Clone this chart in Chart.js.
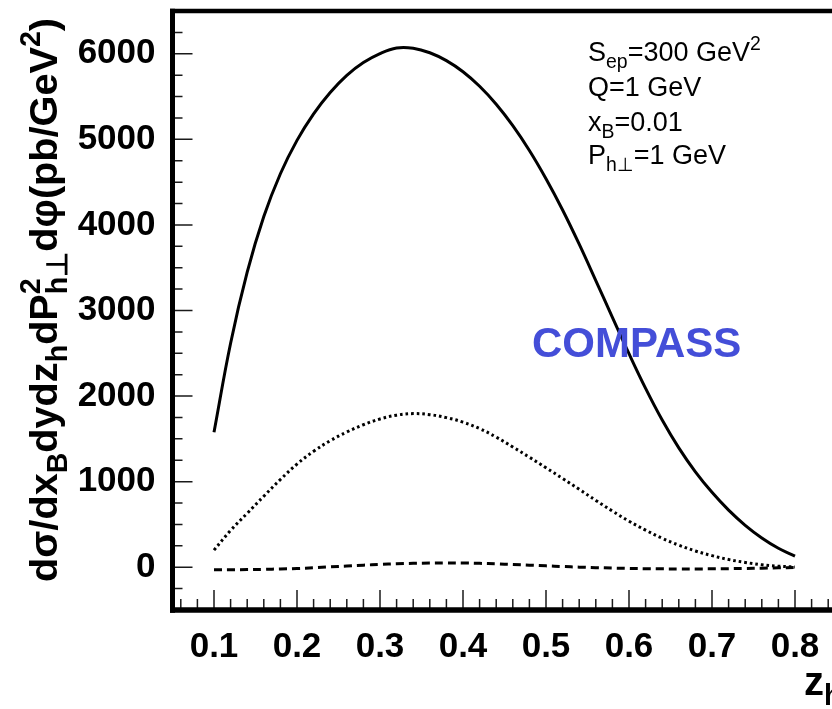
<!DOCTYPE html>
<html><head><meta charset="utf-8">
<script src="https://cdn.jsdelivr.net/npm/chart.js@4.4.1/dist/chart.umd.min.js"></script>
<style>
html,body{margin:0;padding:0;background:#fff;overflow:hidden;width:832px;height:709px}
#wrap{position:absolute;left:0;top:0;width:860px;height:709px}
</style></head>
<body><div id="wrap"><canvas id="c" width="860" height="709"></canvas></div>
<script>
// ---- data ----
const zValues = [0.10,0.12,0.14,0.16,0.18,0.20,0.22,0.24,0.26,0.28,0.30,0.32,0.34,0.36,0.38,0.40,0.42,0.44,0.46,0.48,0.50,0.52,0.54,0.56,0.58,0.60,0.62,0.64,0.66,0.68,0.70,0.72,0.74,0.76,0.78,0.80];
const solidCurve = [1578,2618,3448,4098,4598,4988,5298,5548,5748,5898,6003,6068,6065,6012,5920,5790,5620,5410,5160,4870,4540,4175,3775,3350,2920,2495,2090,1720,1395,1115,875,667,490,342,222,130];
const dottedCurve = [200,430,630,830,1025,1205,1355,1478,1580,1665,1732,1777,1795,1783,1748,1695,1620,1520,1405,1285,1162,1037,910,781,656,538,433,338,258,190,135,90,56,29,12,2];
const dashedCurve = [-30,-30,-28,-25,-20,-15,-6,4,14,24,32,40,45,48,50,49,45,39,32,24,16,8,1,-5,-10,-14,-17,-19,-20,-20,-19,-17,-14,-11,-7,-4];
const xTickLabels = [0.1,0.2,0.3,0.4,0.5,0.6,0.7,0.8];
const yTickLabels = [0,1000,2000,3000,4000,5000,6000];
const annotationLines = [
  [{t:'S'},{t:'ep',s:'b'},{t:'=300 GeV'},{t:'2',s:'p'}],
  [{t:'Q=1 GeV'}],
  [{t:'x'},{t:'B',s:'b'},{t:'=0.01'}],
  [{t:'P'},{t:'h\u22A5',s:'b'},{t:'=1 GeV'}]
];
const yTitle = [{t:'d\u03C3/dx'},{t:'B',s:'b'},{t:'dydz'},{t:'h',s:'b'},{t:'dP'},{stack:true,sup:'2',sub:'h\u22A5'},{t:'d\u03C6(pb/GeV'},{t:'2',s:'p'},{t:')'}];
const xTitle = [{t:'z'},{t:'h',s:'b'}];
const experimentLabel = 'COMPASS';

const FAMILY = '"Liberation Sans", Arial, Helvetica, sans-serif';
const X_MIN = 0.05, X_MAX = 0.85, Y_MIN = -500, Y_MAX = 6500;
const CANVAS_W = 860, FRAME_RIGHT = 836.5;

function drawRich(ctx, parts, x, y, size, weight, measureOnly){
  let cx = x;
  const sub = 0.72;
  for (const p of parts){
    if (p.stack){
      ctx.font = `${weight} ${size*sub}px ${FAMILY}`;
      const w1 = ctx.measureText(p.sup).width, w2 = ctx.measureText(p.sub).width;
      if(!measureOnly){ ctx.fillText(p.sup, cx, y - size*0.42); ctx.fillText(p.sub, cx, y + size*0.26); }
      cx += Math.max(w1,w2);
    } else {
      let fs = size, dy = 0;
      if (p.s==='b'){ fs = size*sub; dy = size*0.26; }
      else if (p.s==='p'){ fs = size*sub; dy = -size*0.42; }
      ctx.font = `${weight} ${fs}px ${FAMILY}`;
      if(!measureOnly) ctx.fillText(p.t, cx, y+dy);
      cx += ctx.measureText(p.t).width;
    }
  }
  return cx - x;
}

const framePlugin = {
  id:'frame',
  afterDatasetsDraw(chart){
    const {ctx, chartArea:a, scales:{x, y}} = chart;
    ctx.save();
    ctx.strokeStyle = '#1a1a1a'; ctx.lineWidth = 1.5;
    ctx.beginPath();
    for (let i=1;i<28;i++){
      const v = Y_MIN + i*250, py = y.getPixelForValue(v);
      const len = (v % 1000 === 0) ? 20 : 10;
      ctx.moveTo(a.left, py); ctx.lineTo(a.left+len, py);
    }
    for (let k=3;k<=42;k++){
      const v = k*0.02, px = x.getPixelForValue(v);
      const len = (k % 5 === 0) ? 20 : 11;
      ctx.moveTo(px, a.bottom); ctx.lineTo(px, a.bottom-len);
    }
    ctx.stroke();
    ctx.strokeStyle = '#000';
    ctx.lineWidth = 4.5;
    ctx.beginPath(); ctx.moveTo(a.left-2.5, a.top); ctx.lineTo(CANVAS_W, a.top); ctx.stroke();
    ctx.lineWidth = 5;
    ctx.beginPath(); ctx.moveTo(a.left, a.top-2.25); ctx.lineTo(a.left, a.bottom+2.75); ctx.stroke();
    ctx.lineWidth = 5.5;
    ctx.beginPath(); ctx.moveTo(a.left-2.5, a.bottom); ctx.lineTo(CANVAS_W, a.bottom); ctx.stroke();
    ctx.lineWidth = 5;
    ctx.beginPath(); ctx.moveTo(a.right, a.top); ctx.lineTo(a.right, a.bottom); ctx.stroke();
    ctx.restore();
  },
  afterDraw(chart){
    const ctx = chart.ctx;
    ctx.save();
    ctx.fillStyle = '#000';
    ctx.textBaseline = 'alphabetic';
    ctx.textAlign = 'left';
    const ay = [61, 96, 131, 164];
    annotationLines.forEach((ln,i)=>drawRich(ctx, ln, 588, ay[i], 27, 'normal'));
    ctx.fillStyle = 'rgb(68,78,216)';
    ctx.font = `bold 42px ${FAMILY}`;
    ctx.fillText(experimentLabel, 532, 357);
    ctx.fillStyle = '#000';
    const base = 40;
    const w = drawRich(ctx, yTitle, 0, 0, base, 'bold', true);
    const fs = base * 564 / w;
    ctx.translate(57, 582); ctx.rotate(-Math.PI/2);
    drawRich(ctx, yTitle, 0, 0, fs, 'bold');
    ctx.setTransform(1,0,0,1,0,0);
    drawRich(ctx, xTitle, 804, 695, 40, 'bold');
    ctx.restore();
  }
};

const mk = arr => zValues.map((z,i)=>({x:z, y:arr[i]}));

new Chart(document.getElementById('c'), {
  type:'line',
  data:{datasets:[
    {data:mk(solidCurve), borderColor:'#000', borderWidth:3, pointRadius:0, tension:0.4, fill:false},
    {data:mk(dottedCurve), borderColor:'#000', borderWidth:3, borderDash:[2.6,3], pointRadius:0, tension:0.4, fill:false},
    {data:mk(dashedCurve), borderColor:'#000', borderWidth:3, borderDash:[8,5], pointRadius:0, tension:0.4, fill:false}
  ]},
  options:{
    responsive:false, animation:false, devicePixelRatio:1,
    layout:{padding:{left:0, top:11, right:CANVAS_W-FRAME_RIGHT, bottom:0}},
    plugins:{legend:{display:false}, tooltip:{enabled:false}},
    scales:{
      x:{type:'linear', position:'bottom', min:X_MIN, max:X_MAX,
        grid:{display:false, drawTicks:false}, border:{display:false},
        afterBuildTicks:s=>{s.ticks = xTickLabels.map(v=>({value:v}));},
        afterFit:s=>{s.height = 99; s.paddingLeft = 0; s.paddingRight = 0;},
        ticks:{color:'#000', padding:16, font:{family:FAMILY, weight:'bold', size:35}, maxRotation:0, autoSkip:false,
          callback:v=>Number(v).toFixed(1)}},
      y:{type:'linear', min:Y_MIN, max:Y_MAX,
        grid:{display:false, drawTicks:false}, border:{display:false},
        afterBuildTicks:s=>{s.ticks = yTickLabels.map(v=>({value:v}));},
        afterFit:s=>{s.width = 172.5; s.paddingTop = 0; s.paddingBottom = 0;},
        ticks:{color:'#000', padding:17, font:{family:FAMILY, weight:'bold', size:35}, autoSkip:false,
          callback:v=>String(v)}}
    }
  },
  plugins:[framePlugin]
});
</script>
</body></html>
